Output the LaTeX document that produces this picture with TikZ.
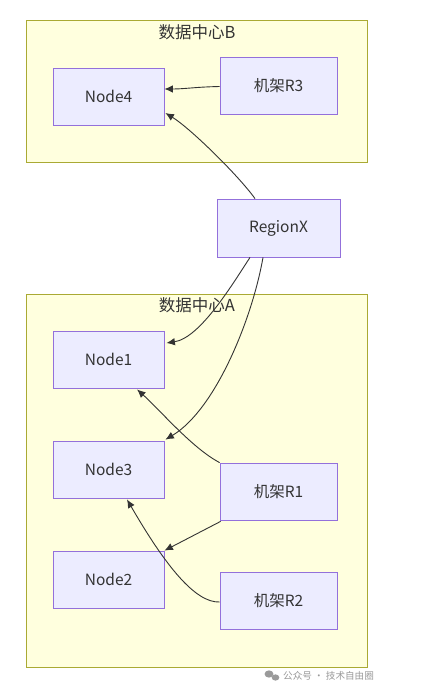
\documentclass[tikz,border=0pt]{standalone}
\usepackage{fontspec}
\newfontfamily\cjk{Noto Sans CJK SC}
\usetikzlibrary{arrows.meta,calc}
\definecolor{nodefill}{HTML}{ECECFF}
\definecolor{nodeline}{HTML}{9370DB}
\definecolor{clfill}{HTML}{FFFFDE}
\definecolor{clline}{HTML}{AAAA33}
\definecolor{txt}{HTML}{333333}
\definecolor{wm}{HTML}{9A9A9A}
\tikzset{
  box/.style={draw=nodeline, fill=nodefill, line width=0.8pt, minimum height=57pt, inner sep=0pt, text=txt, font=\cjk\fontsize{15.5}{18}\selectfont},
  nbox/.style={box, minimum width=111pt},
  rbox/.style={box, minimum width=117pt},
  cluster/.style={draw=clline, fill=clfill, line width=0.8pt},
  ctitle/.style={text=txt, font=\cjk\fontsize{16.5}{19}\selectfont, inner sep=0pt},
  link/.style={draw=txt, line width=0.9pt, -{Latex[length=8.5pt,width=7.5pt]}},
}
\begin{document}
\begin{tikzpicture}[x=1pt,y=-1pt]
\useasboundingbox (0,0) rectangle (442,693);
\fill[white] (0,0) rectangle (442,693);
% clusters
\path[cluster] (26,20) rectangle (367,162);
\node[ctitle] (tb) at (197,32) {数据中心B};
\path[cluster] (26,294) rectangle (367,667);
\node[ctitle] (ta) at (197,305) {数据中心A};
% nodes
\node[nbox] (n4) at (108.5,96.5) {Node4};
\node[rbox] (r3) at (278.5,85.5) {机架R3};
\node[box, minimum width=123pt, minimum height=58pt] (rx) at (278.5,228) {RegionX};
\node[nbox] (n1) at (108.5,359.5) {Node1};
\node[nbox] (n3) at (108.5,469.5) {Node3};
\node[rbox] (r1) at (278.5,491.5) {机架R1};
\node[nbox] (n2) at (108.5,579.5) {Node2};
\node[rbox] (r2) at (278.5,601) {机架R2};
% edges
\draw[link] ($(r3.west)+(0,1)$) .. controls (195,87) and (185,89) .. ($(n4.east)+(0,-7.5)$);
\draw[link] ($(rx.north)+(-23.5,0)$) .. controls (238,175) and (190,128) .. ($(n4.east)+(1,16.5)$);
\draw[link] ($(rx.south)+(-28.5,0)$) .. controls (232,285) and (200,338) .. ($(n1.east)+(2,-16.5)$);
\draw[link] ($(rx.south)+(-15.5,0)$) .. controls (252,320) and (215,410) .. ($(n3.north east)+(1,-1)$);
\draw[link] (r1.north west) .. controls (192,448) and (160,410) .. ($(n1.south)+(28.5,1)$);
\draw[link] ($(r1.south west)+(1,1)$) -- (n2.north east);
\draw[link] ($(r2.west)+(0,1)$) .. controls (195,603) and (165,565) .. ($(n3.south)+(18.5,1)$);
% watermark
\fill[wm] (269,674) ellipse (4.5pt and 3.6pt);
\fill[wm] (275.5,677.5) ellipse (3.8pt and 3.1pt);
\node[text=wm, font=\cjk\fontsize{9.6}{11}\selectfont, anchor=west, inner sep=0pt] (wmt) at (283,675.5) {公众号 · 技术自由圈};
\end{tikzpicture}
\end{document}
